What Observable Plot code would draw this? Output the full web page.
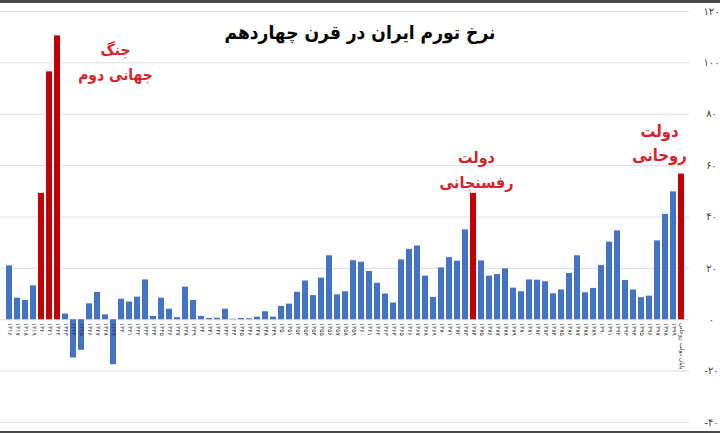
<!DOCTYPE html>
<html>
<head>
<meta charset="utf-8">
<script src="https://cdn.jsdelivr.net/npm/d3@7"></script>
<script src="https://cdn.jsdelivr.net/npm/@observablehq/plot@0.6"></script>
<style>
  html, body { margin: 0; padding: 0; background: #fff; }
  #wrap { position: relative; width: 720px; height: 433px; overflow: hidden; }
  .edge { position: absolute; left: 0; width: 720px; background: #4a4a4a; }
  svg { display: block; }
</style>
</head>
<body>
<div id="wrap">
  <div class="edge" style="top:0;height:3px"></div>
  <div class="edge" style="bottom:0;height:2px"></div>
</div>
<script>
// ---- data ----
const title = "نرخ تورم ایران در قرن چهاردهم";
const years = [1316, 1317, 1318, 1319, 1320, 1321, 1322, 1323, 1324, 1325,
  1326, 1327, 1328, 1329, 1330, 1331, 1332, 1333, 1334, 1335,
  1336, 1337, 1338, 1339, 1340, 1341, 1342, 1343, 1344, 1345,
  1346, 1347, 1348, 1349, 1350, 1351, 1352, 1353, 1354, 1355,
  1356, 1357, 1358, 1359, 1360, 1361, 1362, 1363, 1364, 1365,
  1366, 1367, 1368, 1369, 1370, 1371, 1372, 1373, 1374, 1375,
  1376, 1377, 1378, 1379, 1380, 1381, 1382, 1383, 1384, 1385,
  1386, 1387, 1388, 1389, 1390, 1391, 1392, 1393, 1394, 1395,
  1396, 1397, 1398, 1399];
const lastLabel = "پایان دولت روحانی";
const inflation = [21, 8.4, 7.5, 13.2, 49.2, 96.5, 110.5, 2.2, -14.9, -11.9,
  6.2, 10.6, 1.9, -17.5, 8, 6.9, 8.8, 15.5, 1.3, 8.4,
  4.1, 0.8, 12.7, 7.5, 1.3, 0.5, 0.6, 4.1, 0.2, 0.5,
  0.4, 1, 3.1, 1, 5.2, 6.1, 10.7, 15.1, 9.4, 16.2,
  24.9, 9.7, 10.9, 23, 22.4, 18.8, 14.2, 10, 6.5, 23.3,
  27.4, 28.7, 17, 8.7, 20.2, 24.2, 22.8, 35, 49.2, 22.9,
  17, 17.6, 19.8, 12.3, 10.9, 15.5, 15.4, 14.8, 10.1, 11.6,
  18, 24.9, 10.5, 12.2, 21.1, 30.2, 34.6, 15.3, 11.6, 8.6,
  9.2, 30.7, 41, 49.8, 56.7];
const highlighted = [1320, 1321, 1322, 1374, lastLabel];
const yTicks = [-40, -20, 0, 20, 40, 60, 80, 100, 120];
const noteWar = "جنگ\nجهانی دوم";
const noteRafsanjani = "دولت\nرفسنجانی";
const noteRouhani = "دولت\nروحانی";

// ---- build ----
const categories = [...years, lastLabel];
const rows = categories.map((c, i) => ({cat: c, value: inflation[i], hi: highlighted.includes(c)}));
const fa = (s) => String(s).replace(/\d/g, (d) => "۰۱۲۳۴۵۶۷۸۹"[d]);
const rowOf = (c) => rows.filter((r) => r.cat === c);
const red = "#c00000";
const noteRed = "#d3242c";
const font = "'DejaVu Sans', sans-serif";
const condensed = "'DejaVu Sans Condensed', 'DejaVu Sans', sans-serif";

const chart = Plot.plot({
  width: 720,
  height: 433,
  marginTop: 11,
  marginBottom: 11,
  marginLeft: 0,
  marginRight: 31,
  x: {domain: categories, padding: 0.25, axis: null},
  y: {domain: [-40, 120], axis: null},
  style: {fontFamily: font, background: "transparent", overflow: "visible"},
  marks: [
    Plot.ruleY(yTicks, {stroke: "#dedede", strokeWidth: 1}),
    Plot.barY(rows, {x: "cat", y: "value", fill: (d) => d.hi ? red : "#4472c4"}),
    Plot.text(rows, {
      x: "cat", y: 0, text: (d) => fa(d.cat), rotate: 90, textAnchor: "start",
      lineAnchor: "middle", fontSize: 6, fill: "#333", dy: 3
    }),
    Plot.text(yTicks, {
      y: (d) => d, text: (d) => fa(d), frameAnchor: "right", dx: 22,
      textAnchor: "middle", fontSize: 10, fill: "#444"
    }),
    Plot.text([title], {
      frameAnchor: "top", text: (d) => d, dx: 15, dy: 14,
      fontSize: 19, fontWeight: "bold", fill: "#000", fontFamily: condensed
    }),
    Plot.text(rowOf(1321), {
      x: "cat", y: "value", text: () => noteWar, dx: 66, dy: -12,
      fontSize: 15.5, fontWeight: "bold", fill: noteRed, lineHeight: 1.6, fontFamily: condensed
    }),
    Plot.text(rowOf(1374), {
      x: "cat", y: "value", text: () => noteRafsanjani, dx: 3, dy: -26,
      fontSize: 16, fontWeight: "bold", fill: noteRed, lineHeight: 1.55, fontFamily: condensed
    }),
    Plot.text(rowOf(lastLabel), {
      x: "cat", y: "value", text: () => noteRouhani, dx: -22, dy: -33,
      fontSize: 16.5, fontWeight: "bold", fill: noteRed, lineHeight: 1.5, fontFamily: condensed
    })
  ]
});
document.getElementById("wrap").prepend(chart);
</script>
</body>
</html>
